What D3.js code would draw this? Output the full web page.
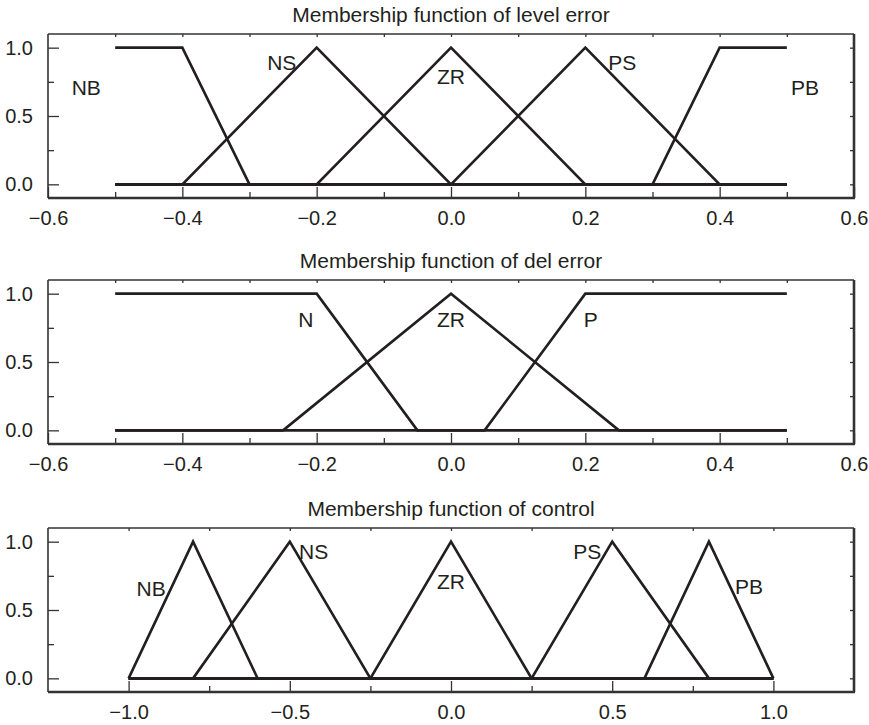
<!DOCTYPE html>
<meta charset="utf-8">
<title>Membership functions</title>

<style>
    body { margin: 0; background: #fff; }
    svg { display: block; font-family: "Liberation Sans", Arial, sans-serif; }
    .mf { fill: none; stroke: #231f20; stroke-width: 2.6px; stroke-linejoin: miter; }
    .frame { stroke: #333; }
    .axis path { display: none; }
    .axis line { stroke: #333; stroke-width: 1.3px; }
    .axis text { fill: #231f20; font-size: 20px; font-family: "Liberation Sans", Arial, sans-serif; }
    .title, .label { fill: #231f20; font-size: 21px; }
</style>

<body>
<script src="https://d3js.org/d3.v7.min.js"></script>

<script>
// level error membership functions (breakpoints x / y)
var levelNames = ["NB", "NS", "ZR", "PS", "PB"];
var levelX = [[-0.5, -0.4, -0.3, 0.5], [-0.5, -0.4, -0.2, 0, 0.5], [-0.5, -0.2, 0, 0.2, 0.5], [-0.5, 0, 0.2, 0.4, 0.5], [-0.5, 0.3, 0.4, 0.5]];
var levelY = [[1, 1, 0, 0], [0, 0, 1, 0, 0], [0, 0, 1, 0, 0], [0, 0, 1, 0, 0], [0, 0, 1, 1]];
var levelLabelX = [-0.543, -0.252, 0, 0.255, 0.527];
var levelLabelY = [0.71, 0.89, 0.79, 0.89, 0.71];

// del error membership functions
var delNames = ["N", "ZR", "P"];
var delX = [[-0.5, -0.2, -0.05, 0.5], [-0.5, -0.25, 0, 0.25, 0.5], [-0.5, 0.05, 0.2, 0.5]];
var delY = [[1, 1, 0, 0], [0, 0, 1, 0, 0], [0, 0, 1, 1]];
var delLabelX = [-0.216, 0, 0.208];
var delLabelY = [0.81, 0.81, 0.815];

// control membership functions
var ctrlNames = ["NB", "NS", "ZR", "PS", "PB"];
var ctrlX = [[-1, -0.8, -0.6, 1], [-1, -0.8, -0.5, -0.25, 1], [-1, -0.25, 0, 0.25, 1], [-1, 0.25, 0.5, 0.8, 1], [-1, 0.6, 0.8, 1]];
var ctrlY = [[0, 1, 0, 0], [0, 0, 1, 0, 0], [0, 0, 1, 0, 0], [0, 0, 1, 0, 0], [0, 0, 1, 0]];
var ctrlLabelX = [-0.93, -0.426, 0, 0.423, 0.924];
var ctrlLabelY = [0.66, 0.93, 0.71, 0.93, 0.67];

// axis ticks
var errMajor = [-0.6, -0.4, -0.2, 0, 0.2, 0.4, 0.6];
var errMinor = [-0.5, -0.3, -0.1, 0.1, 0.3, 0.5];
var errTop = [-0.5, -0.4, -0.3, -0.2, -0.1, 0, 0.1, 0.2, 0.3, 0.4, 0.5];
var ctrlMajor = [-1, -0.5, 0, 0.5, 1];
var ctrlMinor = [-0.75, -0.25, 0.25, 0.75];
var ctrlTop = [-1, -0.75, -0.5, -0.25, 0, 0.25, 0.5, 0.75, 1];
var yMajor = [0, 0.5, 1];
var yMinor = [0.25, 0.75];
var yRight = [0, 0.25, 0.5, 0.75, 1];

var titles = ["Membership function of level error", "Membership function of del error", "Membership function of control"];

var width = 869, height = 725;
var left = 48, right = 854, plotH = 164;
var tops = [34, 280, 528];

var svg = d3.select("body").append("svg")
    .attr("width", width)
    .attr("height", height);

function fmt(d) {
    return d3.format(".1f")(d).replace("-", "\u2013");
}

function drawPanel(i, xDomain, xs, ys, names, lx, ly, major, minor, topTicks) {
    var top = tops[i], bottom = top + plotH;
    var x = d3.scaleLinear().domain(xDomain).range([left, right]);
    var y = d3.scaleLinear().domain([-0.1, 1.1]).range([bottom, top]);

    var g = svg.append("g");

    // title
    g.append("text")
        .attr("class", "title")
        .attr("x", (left + right) / 2)
        .attr("y", top - 12)
        .attr("text-anchor", "middle")
        .text(titles[i]);

    // ticks pointing inward
    g.append("g").attr("class", "axis")
        .attr("transform", "translate(0," + bottom + ")")
        .call(d3.axisBottom(x).tickValues(major).tickSize(-11).tickPadding(13).tickFormat(fmt));
    g.append("g").attr("class", "axis")
        .attr("transform", "translate(0," + bottom + ")")
        .call(d3.axisBottom(x).tickValues(minor).tickSize(-6).tickFormat(""));
    g.append("g").attr("class", "axis")
        .attr("transform", "translate(0," + top + ")")
        .call(d3.axisTop(x).tickValues(topTicks).tickSize(-3).tickFormat(""));
    g.append("g").attr("class", "axis")
        .attr("transform", "translate(" + left + ",0)")
        .call(d3.axisLeft(y).tickValues(yMajor).tickSize(-11).tickPadding(15).tickFormat(d3.format(".1f")));
    g.append("g").attr("class", "axis")
        .attr("transform", "translate(" + left + ",0)")
        .call(d3.axisLeft(y).tickValues(yMinor).tickSize(-6).tickFormat(""));
    g.append("g").attr("class", "axis")
        .attr("transform", "translate(" + right + ",0)")
        .call(d3.axisRight(y).tickValues(yRight).tickSize(-4).tickFormat(""));

    // frame: thin top/left, heavier right/bottom
    g.append("line").attr("class", "frame").attr("stroke-width", 1.6)
        .attr("x1", left).attr("x2", right).attr("y1", top).attr("y2", top);
    g.append("line").attr("class", "frame").attr("stroke-width", 1.6)
        .attr("x1", left).attr("x2", left).attr("y1", top).attr("y2", bottom);
    g.append("line").attr("class", "frame").attr("stroke-width", 2.4)
        .attr("x1", left).attr("x2", right + 1).attr("y1", bottom).attr("y2", bottom);
    g.append("line").attr("class", "frame").attr("stroke-width", 2.6)
        .attr("x1", right).attr("x2", right).attr("y1", top).attr("y2", bottom);

    // membership function lines
    var line = d3.line()
        .x(function(d) { return x(d[0]); })
        .y(function(d) { return y(d[1]); });

    g.selectAll(".mf")
        .data(names.map(function(n, k) { return d3.zip(xs[k], ys[k]); }))
        .enter().append("path")
        .attr("class", "mf")
        .attr("d", line);

    // labels
    g.selectAll(".label")
        .data(names)
        .enter().append("text")
        .attr("class", "label")
        .attr("x", function(d, k) { return x(lx[k]); })
        .attr("y", function(d, k) { return y(ly[k]); })
        .attr("text-anchor", "middle")
        .attr("dy", "0.36em")
        .text(function(d) { return d; });
}

drawPanel(0, [-0.6, 0.6], levelX, levelY, levelNames, levelLabelX, levelLabelY, errMajor, errMinor, errTop);
drawPanel(1, [-0.6, 0.6], delX, delY, delNames, delLabelX, delLabelY, errMajor, errMinor, errTop);
drawPanel(2, [-1.25, 1.25], ctrlX, ctrlY, ctrlNames, ctrlLabelX, ctrlLabelY, ctrlMajor, ctrlMinor, ctrlTop);
</script>
</body>
